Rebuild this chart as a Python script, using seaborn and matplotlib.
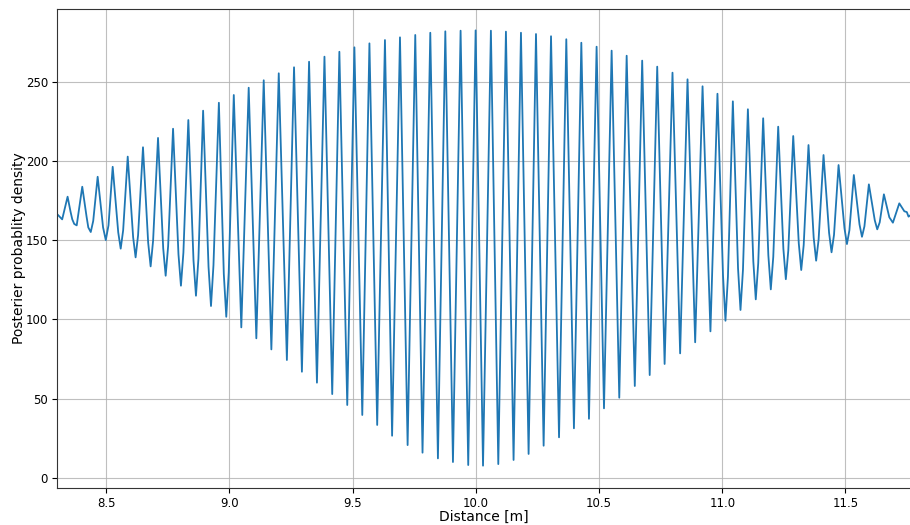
import matplotlib
matplotlib.use("Agg")
import matplotlib.pyplot as plt
import seaborn as sns
import pandas as pd

# Distance [m] of the points (extrema plus shape points)
distance = [
    8.300, 8.321, 8.343, 8.355, 8.362, 8.370, 8.380, 8.4025, 8.420, 8.427, 8.437, 8.447,
    8.465, 8.487, 8.498, 8.509, 8.526, 8.5485, 8.5585, 8.5685,
    8.587, 8.609, 8.619, 8.629, 8.649, 8.670, 8.680, 8.690,
    8.710, 8.731, 8.741, 8.751, 8.771, 8.793, 8.803, 8.813,
    8.833, 8.854, 8.864, 8.874, 8.893, 8.915, 8.925, 8.935,
    8.957, 8.977, 8.987, 8.997,
    9.0175, 9.048, 9.078, 9.109, 9.139, 9.170, 9.200, 9.233, 9.262, 9.294,
    9.323, 9.355, 9.3855, 9.417, 9.446, 9.478, 9.507, 9.539, 9.568, 9.5995,
    9.631, 9.660, 9.692, 9.723, 9.754, 9.7835, 9.815, 9.846, 9.876, 9.907,
    9.938, 9.969, 9.999, 10.029, 10.061, 10.091, 10.122, 10.153, 10.183, 10.214,
    10.244, 10.275, 10.305, 10.3375, 10.367, 10.398, 10.428, 10.459, 10.490, 10.520,
    10.551, 10.582, 10.612, 10.645, 10.675, 10.7055, 10.736, 10.766, 10.798, 10.829,
    10.859, 10.890, 10.920, 10.952, 10.9805,
    11.003, 11.013, 11.023, 11.043, 11.064, 11.074, 11.084,
    11.104, 11.126, 11.136, 11.146, 11.166, 11.187, 11.197, 11.207,
    11.227, 11.248, 11.258, 11.268, 11.288, 11.3105, 11.3205, 11.3305,
    11.350, 11.371, 11.381, 11.391, 11.411, 11.4335, 11.4435, 11.4535,
    11.472, 11.496, 11.506, 11.516, 11.534, 11.557, 11.567, 11.577,
    11.595, 11.619, 11.629, 11.639, 11.656, 11.678, 11.6925, 11.7185,
    11.729, 11.739, 11.749, 11.756, 11.766,
]

# Posterior probability density at those distances
density = [
    166.5, 163.1, 177.4, 167.9, 163.1, 160.2, 159.3, 183.7, 164.8, 158.0, 155.1, 162.1,
    190.0, 158.0, 150.0, 159.3, 196.3, 154.9, 144.6, 156.2,
    202.7, 151.8, 139.1, 153.0, 208.6, 148.4, 133.4, 149.6,
    214.5, 144.9, 127.5, 146.1, 220.3, 141.0, 121.2, 142.1,
    225.8, 137.1, 114.9, 138.3, 231.7, 133.1, 108.4, 134.1,
    236.7, 128.6, 101.6, 129.6,
    241.6, 94.9, 246.2, 88.0, 250.9, 81.0, 255.3, 74.3, 259.1, 66.9,
    262.6, 60.0, 265.8, 52.8, 268.9, 45.9, 271.7, 39.6, 274.2, 33.3,
    276.3, 26.5, 278.0, 20.6, 279.5, 15.8, 280.9, 12.2, 281.8, 9.9,
    282.2, 8.0, 282.4, 7.6, 282.2, 8.6, 281.6, 11.2, 280.9, 15.0,
    280.1, 20.2, 278.7, 25.5, 276.8, 31.2, 274.6, 37.2, 272.1, 43.8,
    269.6, 50.5, 266.4, 57.9, 263.3, 64.8, 259.5, 71.8, 255.7, 78.5,
    251.5, 85.5, 247.1, 92.4, 242.4,
    127.8, 99.1, 126.8, 237.6, 132.2, 105.9, 131.2,
    232.6, 136.6, 112.6, 135.5, 226.9, 140.5, 118.9, 139.4,
    221.6, 144.6, 125.3, 143.4, 215.7, 148.0, 131.1, 146.9,
    210.0, 151.6, 137.0, 150.3, 203.7, 154.6, 142.3, 153.3,
    197.4, 157.5, 147.5, 156.2, 191.1, 159.9, 152.1, 158.7,
    185.2, 162.5, 156.8, 161.2, 178.9, 164.4, 161.0, 173.2,
    170.7, 168.2, 167.7, 164.8, 166.0,
]

x_ticks = [8.5, 9.0, 9.5, 10.0, 10.5, 11.0, 11.5]
y_ticks = [0, 50, 100, 150, 200, 250]

df = pd.DataFrame({"Distance [m]": distance, "Posterier probablity density": density})

plt.rcParams["font.family"] = ["DejaVu Sans"]
fig = plt.figure(figsize=(9.10, 5.25), dpi=100)
ax = fig.add_axes([57 / 910, 37 / 525, 854 / 910, 479 / 525])

sns.lineplot(data=df, x="Distance [m]", y="Posterier probablity density",
             ax=ax, color="#1f77b4", linewidth=1.3, sort=False)

ax.set_xlim(8.30, 11.766)
ax.set_ylim(-6.5, 295.9)
ax.set_xticks(x_ticks)
ax.set_yticks(y_ticks)
ax.grid(True, color="#b0b0b0", linewidth=0.8, alpha=0.8)
ax.set_axisbelow(True)
ax.tick_params(labelsize=8.5, length=3.5, pad=3)
ax.set_xlabel("Distance [m]", fontsize=10, labelpad=0)
ax.set_ylabel("Posterier probablity density", fontsize=10, labelpad=-0.5)
for s in ax.spines.values():
    s.set_color("#333333")

fig.savefig("out.png", dpi=100)
